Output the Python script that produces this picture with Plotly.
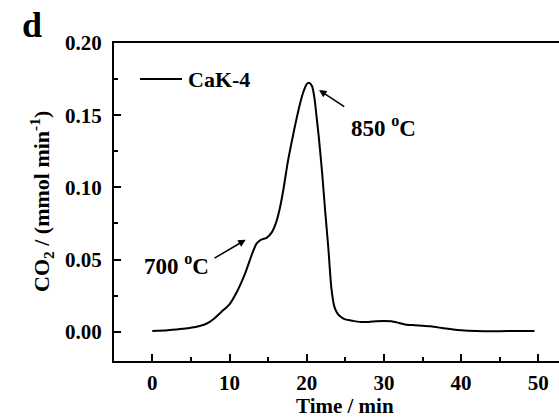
import plotly.graph_objects as go

time_min = [0, 2, 4, 6, 7, 8, 9, 10, 11, 12, 13, 13.5, 14, 14.8, 15.5, 16, 16.5, 17, 17.5, 18,
            18.5, 19, 19.5, 20, 20.3, 20.7, 21, 21.3, 21.6, 22, 22.4, 22.8, 23.2, 23.6, 24, 24.5,
            25, 26, 27, 28, 29, 30, 31, 32, 33, 34, 35, 36, 37, 38, 39, 40, 42, 44, 46, 48, 49.5]
co2_rate = [0.0005, 0.001, 0.002, 0.0038, 0.0055, 0.009, 0.014, 0.019, 0.028, 0.040, 0.055, 0.061,
            0.0635, 0.065, 0.069, 0.075, 0.085, 0.099, 0.116, 0.130, 0.143, 0.155, 0.165, 0.1715,
            0.1725, 0.170, 0.162, 0.148, 0.133, 0.110, 0.083, 0.058, 0.030, 0.017, 0.0125, 0.010,
            0.0085, 0.0075, 0.0068, 0.0068, 0.0072, 0.0074, 0.0072, 0.006, 0.0048, 0.0045, 0.0042,
            0.0038, 0.003, 0.0022, 0.0015, 0.001, 0.0005, 0.0003, 0.0004, 0.0004, 0.0005]
x_ticks = [0, 10, 20, 30, 40, 50]
y_ticks = [0.00, 0.05, 0.10, 0.15, 0.20]
y_tick_labels = ["0.00", "0.05", "0.10", "0.15", "0.20"]
series_name = "CaK-4"

FONT = "Liberation Serif"
L, R, T, B = 114, 559, 43, 361
PW, PH = R - L, B - T


def px(xp):
    return (xp - L) / PW


def py(yp):
    return (B - yp) / PH


fig = go.Figure()
fig.add_trace(go.Scatter(x=time_min, y=co2_rate, mode="lines", name=series_name,
                         line=dict(color="black", width=2, shape="spline", smoothing=0.6),
                         showlegend=False))

fig.update_layout(
    width=559, height=420, autosize=False,
    margin=dict(l=L, r=559 - R, t=T, b=420 - B),
    paper_bgcolor="white", plot_bgcolor="white",
    font=dict(family=FONT, size=21, color="black", weight="bold"),
    xaxis=dict(range=[-4.96, 52.68], tickvals=x_ticks, ticks="inside", ticklen=7, tickwidth=2,
               tickcolor="black", showline=True, linewidth=2, linecolor="black", mirror=True,
               showgrid=False, zeroline=False, ticklabelstandoff=2, automargin=False,
               minor=dict(ticks="inside", dtick=5, tick0=5, ticklen=4, tickwidth=2, tickcolor="black"),
               title=dict(text="")),
    yaxis=dict(range=[-0.0203, 0.2], tickvals=y_ticks, ticktext=y_tick_labels, ticks="inside",
               ticklen=7, tickwidth=2, tickcolor="black", showline=True, linewidth=2,
               linecolor="black", mirror=False, showgrid=False, zeroline=False,
               ticklabelstandoff=6, automargin=False,
               minor=dict(ticks="inside", dtick=0.025, tick0=0.025, ticklen=4, tickwidth=2, tickcolor="black"),
               title=dict(text="")),
)

# axis titles
fig.add_annotation(xref="paper", yref="paper", x=px(345), y=py(420), text="Time / min",
                   showarrow=False, xanchor="center", yanchor="bottom", font=dict(size=21))
fig.add_annotation(xref="paper", yref="paper", x=px(41), y=py(202),
                   text="CO<sub>2</sub> / (mmol min<sup>-1</sup>)", textangle=-90,
                   showarrow=False, xanchor="center", yanchor="middle", font=dict(size=22))

# legend sample
fig.add_shape(type="line", xref="paper", yref="paper", x0=px(140), x1=px(182),
              y0=py(79), y1=py(79), line=dict(color="black", width=2))
fig.add_annotation(xref="paper", yref="paper", x=px(186), y=py(79),
                   text=series_name, showarrow=False, xanchor="left", yanchor="middle",
                   font=dict(size=22))

# panel letter
fig.add_annotation(xref="paper", yref="paper", x=px(32), y=py(25),
                   text="d", showarrow=False, xanchor="center", yanchor="middle",
                   font=dict(size=36))

# arrows
fig.add_annotation(x=12.1, y=0.0637, ax=213.3 - 246, ay=259.3 - 240, axref="pixel", ayref="pixel",
                   text="", showarrow=True, arrowhead=2, arrowsize=1, arrowwidth=1.5, arrowcolor="black")
fig.add_annotation(x=21.6, y=0.1674, ax=346 - 319.3, ay=108.3 - 90.7,
                   text="", showarrow=True, arrowhead=2, arrowsize=1, arrowwidth=1.5, arrowcolor="black")

# labels
fig.add_annotation(xref="paper", yref="paper", x=px(142), y=py(264),
                   text="700 <sup>o</sup>C", showarrow=False, xanchor="left", yanchor="middle",
                   font=dict(size=23))
fig.add_annotation(xref="paper", yref="paper", x=px(349), y=py(126),
                   text="850 <sup>o</sup>C", showarrow=False, xanchor="left", yanchor="middle",
                   font=dict(size=23))

fig.write_html("out.html")
